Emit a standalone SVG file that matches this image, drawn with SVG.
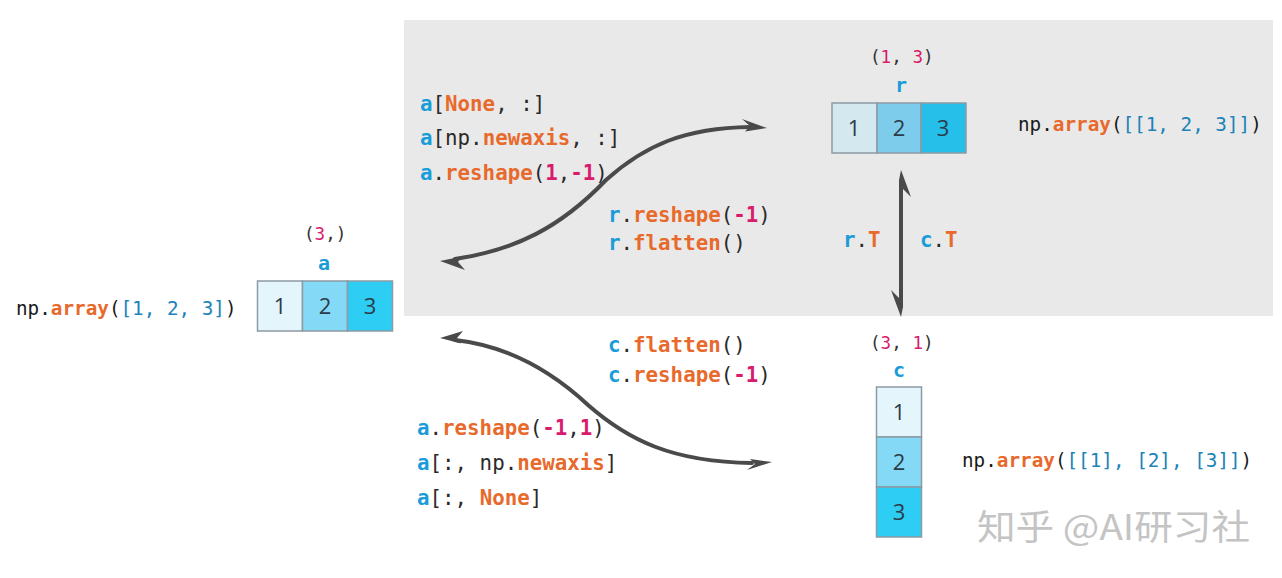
<svg xmlns="http://www.w3.org/2000/svg" width="1282" height="578" viewBox="0 0 1282 578">
<style>
.code{font-family:"DejaVu Sans Mono","Liberation Mono",monospace;font-size:20.8px;fill:#2a2a2a}
.arr{font-family:"DejaVu Sans Mono","Liberation Mono",monospace;font-size:19.3px;fill:#1a1a1a}
.shape{font-family:"DejaVu Sans Mono","Liberation Mono",monospace;font-size:17.6px;fill:#333}
.var{font-family:"DejaVu Sans Mono","Liberation Mono",monospace;font-size:20px;font-weight:bold;fill:#1a9cd8}
.b{fill:#1a9cd8;font-weight:bold}
.o{fill:#e8692c;font-weight:bold}
.m{fill:#d81b6a;font-weight:bold}
.sm{fill:#d81b6a}
.t{fill:#2083b8}
.num{font-family:"Open Sans","Liberation Sans",sans-serif;font-size:22px;fill:#2b3b48;text-anchor:middle}
.cell{stroke:#8c9aa2;stroke-width:1.5}
.curve{fill:none;stroke:#4a4a4a;stroke-width:4;stroke-linecap:round}
.head{fill:#4a4a4a}
</style>
<rect x="0" y="0" width="1282" height="578" fill="#ffffff"/>
<rect x="404" y="20" width="869" height="296" fill="#e9e9e9"/>

<g id="connectors">
<path class="curve" d="M455,259 C515,250 560,228 606,180 C645,145 685,128 750,127"/>
<polygon class="head" points="742,119 767,128 745,131.5 750,126"/>
<polygon class="head" points="465,270 440,261 462,256.5 458,262"/>
<path class="curve" d="M455,340 C500,345 545,365 588,405 C628,440 672,462 752,463"/>
<polygon class="head" points="463,331 440,338 461,343.5 457,338"/>
<polygon class="head" points="747,470 772,462 750,459 755,464"/>
<line x1="901" y1="185" x2="901" y2="303" stroke="#4a4a4a" stroke-width="4"/>
<polygon class="head" points="899,180 901,170 911,197 903,189 899,189"/>
<polygon class="head" points="903,307 901,317 891,290 899,298 903,298"/>
</g>

<g id="node-a">
<text class="shape" x="304" y="240">(<tspan class="sm">3</tspan>,)</text>
<text class="var" x="324" y="270" text-anchor="middle">a</text>
<rect class="cell" x="257.5" y="281" width="45" height="50" fill="#e4f6fc"/>
<rect class="cell" x="302.5" y="281" width="45" height="50" fill="#84daf6"/>
<rect class="cell" x="347.5" y="281" width="45" height="50" fill="#2ecdf4"/>
<text class="num" x="280" y="314">1</text>
<text class="num" x="325" y="314">2</text>
<text class="num" x="370" y="314">3</text>
<text class="arr" x="16" y="315">np.<tspan class="o">array</tspan>(<tspan class="t">[1, 2, 3]</tspan>)</text>
</g>

<g id="node-r">
<text class="shape" x="870" y="63">(<tspan class="sm">1</tspan>, <tspan class="sm">3</tspan>)</text>
<text class="var" x="901" y="92" text-anchor="middle">r</text>
<rect class="cell" x="832" y="103" width="45" height="50" fill="#d4e8f0"/>
<rect class="cell" x="877" y="103" width="44" height="50" fill="#7ecceb"/>
<rect class="cell" x="921" y="103" width="45" height="50" fill="#25bfea"/>
<text class="num" x="854" y="136">1</text>
<text class="num" x="899" y="136">2</text>
<text class="num" x="943" y="136">3</text>
<text class="arr" x="1018" y="131">np.<tspan class="o">array</tspan>(<tspan class="t">[[1, 2, 3]]</tspan>)</text>
</g>

<g id="node-c">
<text class="shape" x="870" y="349">(<tspan class="sm">3</tspan>, <tspan class="sm">1</tspan>)</text>
<text class="var" x="899" y="377" text-anchor="middle">c</text>
<rect class="cell" x="876.5" y="387" width="45" height="50" fill="#e4f6fc"/>
<rect class="cell" x="876.5" y="437" width="45" height="50" fill="#84daf6"/>
<rect class="cell" x="876.5" y="487" width="45" height="50" fill="#2ecdf4"/>
<text class="num" x="899" y="420">1</text>
<text class="num" x="899" y="470">2</text>
<text class="num" x="899" y="520">3</text>
<text class="arr" x="962" y="467">np.<tspan class="o">array</tspan>(<tspan class="t">[[1], [2], [3]]</tspan>)</text>
</g>

<g id="labels">
<text class="code" x="420" y="111"><tspan class="b">a</tspan>[<tspan class="o">None</tspan>, :]</text>
<text class="code" x="420" y="145"><tspan class="b">a</tspan>[np.<tspan class="o">newaxis</tspan>, :]</text>
<text class="code" x="420" y="180"><tspan class="b">a</tspan>.<tspan class="o">reshape</tspan>(<tspan class="m">1</tspan>,<tspan class="m">-1</tspan>)</text>
<text class="code" x="608" y="222"><tspan class="b">r</tspan>.<tspan class="o">reshape</tspan>(<tspan class="m">-1</tspan>)</text>
<text class="code" x="608" y="250"><tspan class="b">r</tspan>.<tspan class="o">flatten</tspan>()</text>
<text class="code" x="843" y="247"><tspan class="b">r</tspan>.<tspan class="o">T</tspan></text>
<text class="code" x="920" y="247"><tspan class="b">c</tspan>.<tspan class="o">T</tspan></text>
<text class="code" x="608" y="352"><tspan class="b">c</tspan>.<tspan class="o">flatten</tspan>()</text>
<text class="code" x="608" y="382"><tspan class="b">c</tspan>.<tspan class="o">reshape</tspan>(<tspan class="m">-1</tspan>)</text>
<text class="code" x="417" y="435"><tspan class="b">a</tspan>.<tspan class="o">reshape</tspan>(<tspan class="m">-1</tspan>,<tspan class="m">1</tspan>)</text>
<text class="code" x="417" y="470"><tspan class="b">a</tspan>[:, np.<tspan class="o">newaxis</tspan>]</text>
<text class="code" x="417" y="505"><tspan class="b">a</tspan>[:, <tspan class="o">None</tspan>]</text>
</g>

<text x="977" y="540" font-family="'Noto Sans CJK SC',sans-serif" font-size="35" fill="#c4c4c4" textLength="273" lengthAdjust="spacingAndGlyphs">知乎 @AI研习社</text>
</svg>
